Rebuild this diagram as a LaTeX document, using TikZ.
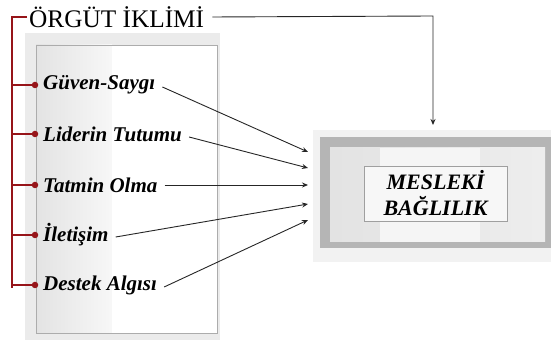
\documentclass[tikz,border=0pt]{standalone}
\usepackage{fontspec}
\setmainfont{Liberation Serif}
\usetikzlibrary{arrows.meta}
\definecolor{darkred}{RGB}{150,20,25}
\begin{document}
\begin{tikzpicture}[x=1pt,y=1pt,
  lbl/.style={anchor=west,font=\fontsize{21}{22}\selectfont\bfseries\itshape,inner sep=0pt},
  dot/.style={circle,fill=darkred,inner sep=0pt,minimum size=6.5pt},
  conn/.style={draw=black!85,line width=0.9pt,-{Stealth[length=6pt,width=5pt]}},
  redline/.style={draw=darkred,line width=1.2pt}]
\useasboundingbox (0,0) rectangle (551,342);
% left panel
\fill[gray!16] (25,2) rectangle (220,309);
\shade[left color=gray!22,right color=gray!6,shading angle=90] (36,9) rectangle (112,297);
\fill[white] (112,9) rectangle (217,297);
\draw[gray!65,line width=0.8pt] (36,9) rectangle (217,297);
% right box
\fill[gray!10] (313,80) rectangle (551,212);
\fill[gray!58] (320,94) rectangle (551,205);
\shade[left color=gray!22,right color=gray!14] (330,100) rectangle (545,194);
\fill[gray!8] (380,100) rectangle (480,194);
\node[draw=gray!75,line width=0.8pt,fill=gray!6,minimum width=143pt,minimum height=55pt,align=center,
  font=\fontsize{22}{26}\selectfont\bfseries\itshape] (mb) at (435.5,148.5) {MESLEKİ\\BAĞLILIK};
% title
\node[anchor=west,font=\fontsize{25.3}{27}\selectfont,inner sep=0pt] (title) at (29,325) {ÖRGÜT İKLİMİ};
\coordinate (tr) at (433,326);
\coordinate (tip) at (433,217);
\draw[conn] (title.east) ++(8,0) coordinate (ts) -- (tr) -- (tip);
% red tree
\coordinate (rt) at (12,325);
\coordinate (rb) at (12,54);
\draw[redline] (27,325) -- (rt) -- (rb);
\foreach \y/\n/\t in {257/a/Güven-Saygı,208/b/Liderin Tutumu,157/c/Tatmin Olma,107/d/İletişim,57/e/Destek Algısı}{
  \node[dot] (d\n) at (35,\y) {};
  \node[lbl] (l\n) at (43,\y) {\t};
  \draw[redline] (12,\y) -- (d\n);
}
\draw[conn] (la.east) ++(7,-2) -- (308,190);
\draw[conn] (lb.east) ++(7,-3) -- (308,174);
\draw[conn] (lc.east) ++(7,0) -- (308,157);
\draw[conn] (ld.east) ++(7,-2) -- (308,138);
\draw[conn] (le.east) ++(7,-2) -- (308,122);
\end{tikzpicture}
\end{document}
